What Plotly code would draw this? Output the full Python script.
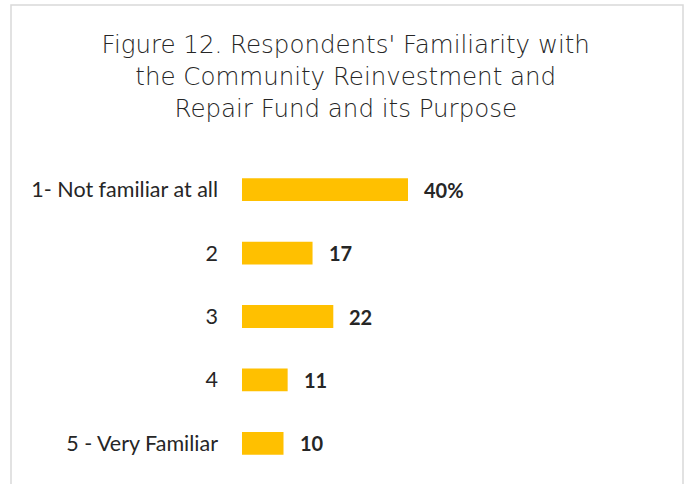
import plotly.graph_objects as go

categories = ["1- Not familiar at all", "2", "3", "4", "5 - Very Familiar"]
values = [40, 17, 22, 11, 10]
value_labels = ["40%", "17", "22", "11", "10"]

title_text = ("Figure 12. Respondents' Familiarity with<br>"
              "the Community Reinvestment and<br>"
              "Repair Fund and its Purpose")

fig = go.Figure()
fig.add_trace(go.Bar(
    x=values,
    y=categories,
    orientation="h",
    marker=dict(color="#FFC000", line=dict(width=0)),
    width=0.36,
    hoverinfo="skip",
))

# value labels to the right of each bar (y given as category index)
for i, (v, lab) in enumerate(zip(values, value_labels)):
    fig.add_annotation(
        x=v, y=i, text="<b>" + lab + "</b>",
        showarrow=False, xanchor="left", xshift=14,
        font=dict(family="Lato, Open Sans, sans-serif", size=20, color="#262626"),
    )

# light frame round the chart
fig.add_shape(
    type="rect", xref="paper", yref="paper",
    x0=(11 - 242) / 415, x1=(683 - 242) / 415,
    y0=-0.1, y1=(484 - 5 - 9) / 317,
    line=dict(color="#d9d9d9", width=1.5),
    fillcolor="rgba(0,0,0,0)",
    layer="below",
)

fig.update_layout(
    width=686, height=484,
    margin=dict(l=242, r=29, t=158, b=9),
    paper_bgcolor="white",
    plot_bgcolor="white",
    showlegend=False,
    title=dict(
        text=title_text,
        x=0.504, xanchor="center",
        y=1 - 53 / 484, yanchor="top", yref="container",
        font=dict(family="DejaVu Sans, sans-serif", size=24.5, color="#262626", weight=200),
    ),
    xaxis=dict(range=[0, 100], visible=False, fixedrange=True),
    yaxis=dict(
        type="category",
        autorange="reversed",
        showgrid=False, zeroline=False, showline=False,
        ticks="", ticklabelstandoff=23,
        tickfont=dict(family="Lato, Open Sans, sans-serif", size=21.5, color="#262626"),
    ),
)

fig.write_html("out.html", config={"displayModeBar": False},
               post_script="document.body.style.margin='0';")
